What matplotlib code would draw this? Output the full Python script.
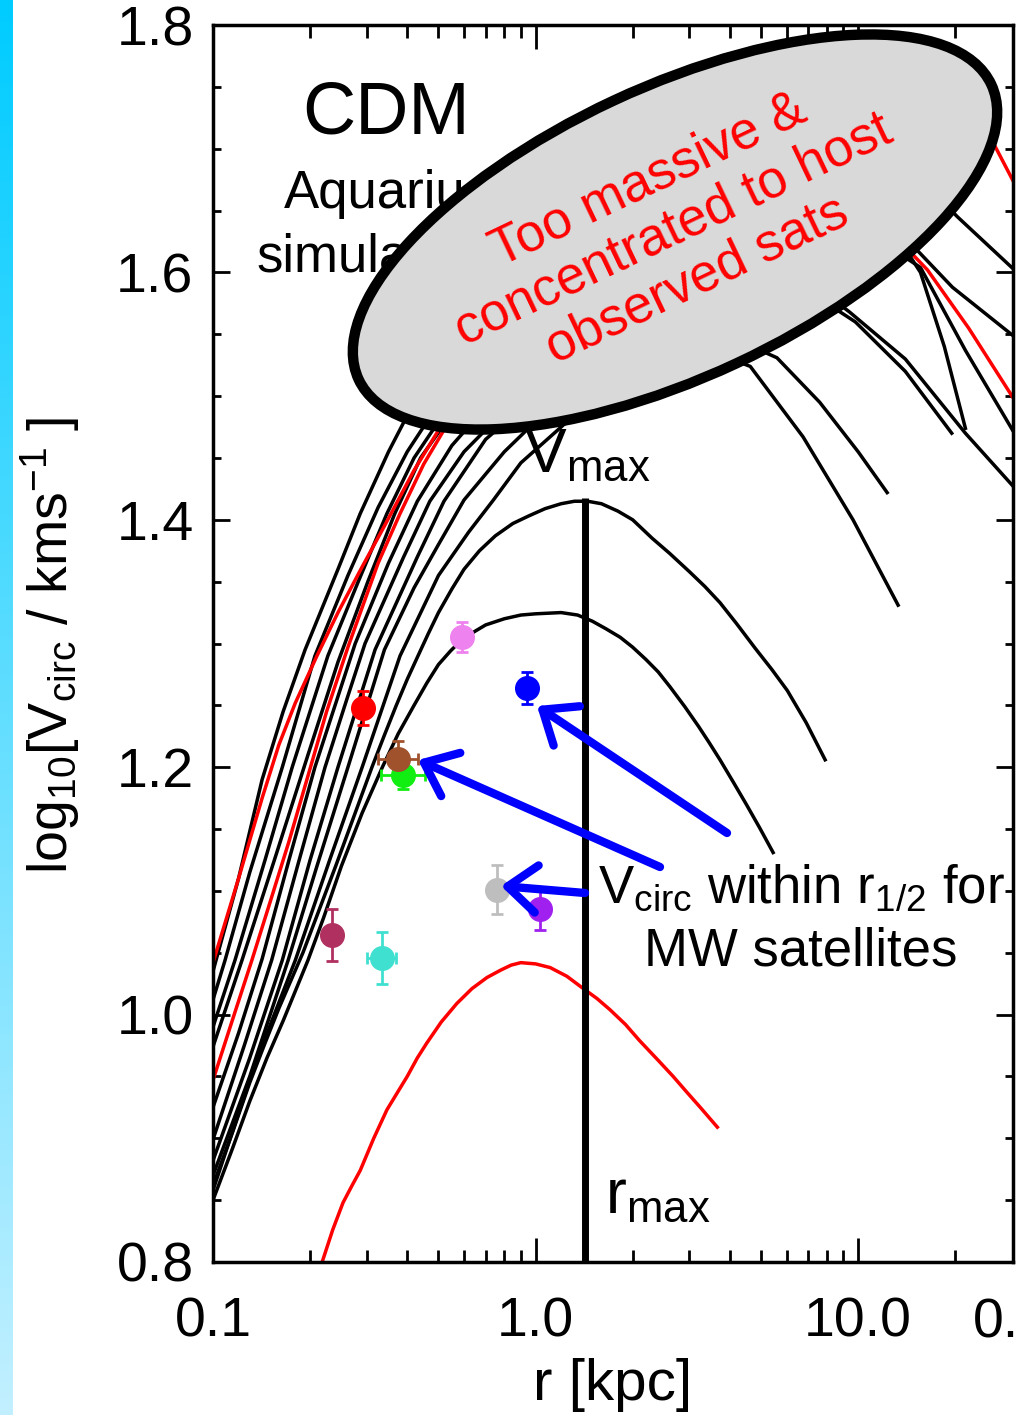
import numpy as np
import matplotlib
matplotlib.use("Agg")
import matplotlib.pyplot as plt
from matplotlib.patches import Ellipse
from matplotlib.ticker import NullFormatter

plt.rcParams['font.family'] = ['Liberation Sans', 'DejaVu Sans']
plt.rcParams['mathtext.fontset'] = 'custom'
plt.rcParams['mathtext.rm'] = 'Liberation Sans'
plt.rcParams['mathtext.it'] = 'Liberation Sans:italic'
plt.rcParams['mathtext.bf'] = 'Liberation Sans:bold'
plt.rcParams['mathtext.sf'] = 'Liberation Sans'

# ---------------- data (r in kpc, log10 Vcirc) ----------------
r1_x = [0.1, 0.12, 0.142, 0.16, 0.18, 0.21, 0.244, 0.29, 0.34, 0.42, 0.55, 0.8, 1.2, 2.0, 3.5, 6.0, 10.0, 16.0, 22.0, 26.2, 30.5]
r1_y = [1.042, 1.11, 1.175, 1.218, 1.252, 1.29, 1.325, 1.362, 1.395, 1.44, 1.49, 1.55, 1.60, 1.66, 1.71, 1.74, 1.752, 1.745, 1.725, 1.705, 1.672]

r2_x = [0.1, 0.115, 0.132, 0.152, 0.172, 0.193, 0.225, 0.262, 0.325, 0.38, 0.45, 0.6, 0.9, 1.5, 3.0, 6.0, 10.0, 13.5, 16.4, 22.0, 30.5]
r2_y = [0.947, 0.996, 1.044, 1.095, 1.14, 1.185, 1.245, 1.297, 1.365, 1.405, 1.445, 1.50, 1.55, 1.60, 1.64, 1.655, 1.645, 1.625, 1.602, 1.555, 1.497]

b1_x = [0.1, 0.12, 0.142, 0.165, 0.193, 0.244, 0.286, 0.35, 0.45, 0.7, 1.2, 2.2, 4.0, 7.0, 11.0, 15.0, 20.3, 30.5]
b1_y = [1.035, 1.11, 1.19, 1.245, 1.295, 1.36, 1.405, 1.455, 1.51, 1.575, 1.632, 1.675, 1.70, 1.71, 1.70, 1.68, 1.645, 1.602]

b2_x = [0.1, 0.109, 0.13, 0.164, 0.207, 0.262, 0.325, 0.4, 0.55, 0.9, 1.6, 3.0, 5.5, 9.0, 14.0, 19.6, 30.5]
b2_y = [1.012, 1.044, 1.115, 1.2, 1.29, 1.355, 1.41, 1.455, 1.51, 1.565, 1.615, 1.65, 1.665, 1.66, 1.628, 1.588, 1.548]

b3_x = [0.1, 0.117, 0.145, 0.176, 0.227, 0.282, 0.346, 0.42, 0.6, 1.0, 2.0, 4.0, 7.0, 10.5, 13.0, 15.6, 18.5, 21.5]
b3_y = [0.99, 1.044, 1.125, 1.2, 1.29, 1.35, 1.405, 1.45, 1.51, 1.56, 1.61, 1.64, 1.65, 1.645, 1.632, 1.60, 1.54, 1.474]

b4_x = [0.1, 0.123, 0.155, 0.197, 0.244, 0.302, 0.366, 0.44, 0.6, 1.0, 2.0, 4.0, 7.0, 11.0, 15.6, 21.5, 30.5]
b4_y = [0.974, 1.044, 1.125, 1.21, 1.285, 1.35, 1.405, 1.45, 1.50, 1.55, 1.60, 1.63, 1.64, 1.63, 1.604, 1.537, 1.47]

b5_x = [0.1, 0.12, 0.142, 0.172, 0.207, 0.276, 0.35, 0.43, 0.55, 0.75, 1.2, 2.2, 4.0, 6.5, 9.4, 14.0, 21.5, 30.5]
b5_y = [0.925, 0.985, 1.045, 1.125, 1.2, 1.3, 1.365, 1.415, 1.46, 1.50, 1.545, 1.585, 1.605, 1.60, 1.568, 1.53, 1.47, 1.426]

b6_x = [0.1, 0.125, 0.152, 0.185, 0.2225, 0.26, 0.296, 0.39, 0.47, 0.6, 0.85, 1.3, 2.2, 3.5, 5.5, 8.0, 9.8, 14.0, 19.5]
b6_y = [0.899, 0.975, 1.044, 1.125, 1.2, 1.255, 1.3, 1.37, 1.415, 1.455, 1.495, 1.535, 1.565, 1.58, 1.582, 1.575, 1.56, 1.52, 1.47]

b7_x = [0.1, 0.13, 0.164, 0.2, 0.244, 0.318, 0.43, 0.52, 0.7, 1.0, 1.6, 2.5, 3.8, 6.0]
b7_y = [0.882, 0.965, 1.044, 1.125, 1.2, 1.295, 1.37, 1.415, 1.465, 1.50, 1.54, 1.565, 1.575, 1.57]

b8_x = [0.1, 0.13, 0.171, 0.21, 0.262, 0.34, 0.42, 0.5, 0.6, 0.8, 1.1, 1.7, 2.8, 4.0, 5.6, 7.6, 10.0, 12.3]
b8_y = [0.87, 0.95, 1.044, 1.12, 1.2, 1.295, 1.345, 1.38, 1.416, 1.455, 1.49, 1.525, 1.55, 1.548, 1.531, 1.495, 1.455, 1.422]

b9_x = [0.1, 0.135, 0.18, 0.23, 0.29, 0.38, 0.5, 0.62, 0.74, 0.9, 1.2, 1.6, 2.3, 3.2, 4.63, 6.75, 9.64, 13.3]
b9_y = [0.858, 0.96, 1.044, 1.125, 1.2, 1.29, 1.355, 1.39, 1.416, 1.446, 1.475, 1.505, 1.53, 1.54, 1.524, 1.467, 1.40, 1.331]

ca_x = [0.1, 0.115, 0.13, 0.145, 0.16, 0.19, 0.215, 0.24, 0.275, 0.311, 0.34, 0.37, 0.4, 0.432, 0.465, 0.5,
        0.55, 0.6, 0.67, 0.75, 0.85, 0.95, 1.07, 1.2, 1.32, 1.45, 1.6, 1.8, 2.0, 2.3, 2.6, 3.0, 3.35, 3.73,
        4.2, 4.8, 5.4, 6.03, 6.9, 7.9]
ca_y = [0.862, 0.905, 0.945, 0.977, 1.005, 1.05, 1.087, 1.12, 1.162, 1.2, 1.226, 1.25, 1.271, 1.29, 1.308, 1.325,
        1.344, 1.36, 1.375, 1.387, 1.397, 1.403, 1.409, 1.413, 1.415, 1.415, 1.413, 1.407, 1.40, 1.385, 1.373,
        1.358, 1.346, 1.333, 1.316, 1.296, 1.279, 1.262, 1.236, 1.206]

cb_x = [0.1, 0.115, 0.13, 0.147, 0.165, 0.197, 0.22, 0.25, 0.29, 0.335, 0.375, 0.42, 0.46, 0.5, 0.545, 0.59,
        0.65, 0.7, 0.8, 0.9, 1.0, 1.2, 1.35, 1.5, 1.65, 1.83, 2.0, 2.2, 2.4, 2.61, 2.9, 3.2, 3.45, 3.73, 4.1,
        4.5, 4.95, 5.45]
cb_y = [0.85, 0.892, 0.93, 0.965, 0.995, 1.044, 1.078, 1.12, 1.163, 1.2, 1.227, 1.25, 1.268, 1.283, 1.294, 1.303,
        1.31, 1.315, 1.32, 1.323, 1.324, 1.325, 1.323, 1.318, 1.312, 1.305, 1.297, 1.287, 1.277, 1.265, 1.249,
        1.233, 1.22, 1.206, 1.188, 1.17, 1.151, 1.131]

low_x = [0.195, 0.218, 0.235, 0.253, 0.27, 0.286, 0.315, 0.346, 0.375, 0.4, 0.43, 0.46, 0.51, 0.57, 0.635,
         0.707, 0.78, 0.84, 0.9, 1.0, 1.11, 1.25, 1.39, 1.55, 1.7, 1.9, 2.1, 2.4, 2.67, 2.95, 3.24, 3.66]
low_y = [0.765, 0.80, 0.826, 0.848, 0.862, 0.874, 0.90, 0.923, 0.938, 0.95, 0.965, 0.977, 0.994, 1.009, 1.021,
         1.03, 1.036, 1.04, 1.042, 1.041, 1.038, 1.031, 1.022, 1.013, 1.004, 0.992, 0.979, 0.963, 0.95, 0.937,
         0.925, 0.909]

sat_r = [0.234, 0.334, 0.292, 0.388, 0.375, 0.591, 0.941, 0.760, 1.032]
sat_v = [1.064, 1.046, 1.248, 1.194, 1.207, 1.305, 1.264, 1.101, 1.085]
sat_verr = [0.021, 0.021, 0.014, 0.012, 0.014, 0.012, 0.013, 0.020, 0.017]
sat_rerr_dex = [0.0, 0.045, 0.0, 0.068, 0.062, 0.0, 0.0, 0.0, 0.0]
sat_colors = ['#B03060', '#40E0D0', '#FF0000', '#11EE11', '#A0522D', '#EE82EE', '#0000FF', '#BEBEBE', '#A020F0']

rmax_kpc = 1.424
vmax_log = 1.418

x_major = [0.1, 1.0, 10.0]
x_major_labels = ['0.1', '1.0', '10.0']
x_minor = [0.2, 0.3, 0.4, 0.5, 0.6, 0.7, 0.8, 0.9, 2, 3, 4, 5, 6, 7, 8, 9, 20]
y_major = [0.8, 1.0, 1.2, 1.4, 1.6, 1.8]
y_major_labels = ['0.8', '1.0', '1.2', '1.4', '1.6', '1.8']
y_minor = list(np.round(np.arange(0.85, 1.8, 0.05), 2))

# ---------------- figure ----------------
W, H = 1022, 1415
fig = plt.figure(figsize=(W / 100, H / 100), dpi=100)

# cyan gradient strip on the left
bar = fig.add_axes([0, 0, 13 / W, 1])
t = np.linspace(0, 1, 256)[:, None]
c_top = np.array([0.0, 0.80, 1.0])
c_bot = np.array([0.76, 0.94, 1.0])
img = (c_top * (1 - t) + c_bot * t)[:, None, :]
bar.imshow(img, aspect='auto', extent=[0, 1, 0, 1])
bar.axis('off')

ax = fig.add_axes([213 / W, 1 - 1262 / H, 800 / W, 1237 / H])
ov = fig.add_axes([0, 0, 1, 1], zorder=5)
ov.set_xlim(0, W)
ov.set_ylim(H, 0)
ov.axis('off')

ax.set_xscale('log')
ax.set_xlim(0.1, 30.2)
ax.set_ylim(0.8, 1.8)

black_curves = [(b1_x, b1_y), (b2_x, b2_y), (b3_x, b3_y), (b4_x, b4_y), (b5_x, b5_y),
                (b6_x, b6_y), (b7_x, b7_y), (b8_x, b8_y), (b9_x, b9_y), (ca_x, ca_y), (cb_x, cb_y)]
for xs, ys in black_curves:
    ax.plot(xs, ys, color='black', lw=2.5, zorder=2, solid_joinstyle='round')
for xs, ys in [(r1_x, r1_y), (r2_x, r2_y)]:
    ax.plot(xs, ys, color='#FF0000', lw=2.5, zorder=2.1, solid_joinstyle='round')
ax.plot(low_x, low_y, color='#FF0000', lw=2.5, zorder=2.1, solid_joinstyle='round')

ax.plot([rmax_kpc, rmax_kpc], [0.8, vmax_log], color='black', lw=5, zorder=2.5,
        solid_capstyle='butt')

for r, v, ve, rd, c in zip(sat_r, sat_v, sat_verr, sat_rerr_dex, sat_colors):
    xerr = None
    if rd > 0:
        xerr = [[r - r * 10 ** (-rd)], [r * 10 ** rd - r]]
    ax.errorbar([r], [v], yerr=[ve], xerr=xerr, fmt='o', ms=17, mfc=c, mec=c,
                ecolor=c, elinewidth=2, capsize=4, capthick=2, zorder=4)

ax.set_xticks(x_major)
ax.set_xticklabels(x_major_labels)
ax.set_xticks(x_minor, minor=True)
ax.xaxis.set_minor_formatter(NullFormatter())
ax.set_yticks(y_major)
ax.set_yticklabels(y_major_labels)
ax.set_yticks(y_minor, minor=True)
ax.yaxis.set_minor_formatter(NullFormatter())

ax.tick_params(which='both', direction='in', top=True, right=True, colors='black')
ax.tick_params(axis='x', which='major', length=17, width=2, pad=25, labelsize=40)
ax.tick_params(axis='x', which='minor', length=9, width=2)
ax.tick_params(axis='y', which='major', length=12, width=2, pad=14, labelsize=40)
ax.tick_params(axis='y', which='minor', length=6, width=2)
for s in ax.spines.values():
    s.set_linewidth(2.5)

# texts that sit beneath the ellipse
ax.text(388, 208, 'Aquarius', transform=ov.transData, fontsize=38, ha='center', va='baseline')
ax.text(388, 272, 'simulations', transform=ov.transData, fontsize=38, ha='center', va='baseline')
ax.text(524, 472, r'V$_{\mathrm{max}}$', transform=ov.transData, fontsize=45, ha='left', va='baseline')

# overlay
ov.text(386, 133, 'CDM', fontsize=53, ha='center', va='baseline')
ov.add_patch(Ellipse((675, 232), 698, 290, angle=-25, facecolor='#D9D9D9',
                     edgecolor='black', lw=7.5))
ov.text(673, 230, 'Too massive &\nconcentrated to host\nobserved sats', color='#FF0000',
        fontsize=38, rotation=25.5, rotation_mode='anchor', ha='center', va='center',
        multialignment='center', linespacing=1.15)

arrows = [((727, 833), (537, 706)), ((660, 867), (418, 760)), ((585, 893), (501, 886))]
for tail, tip in arrows:
    ov.annotate('', xy=tip, xytext=tail,
                arrowprops=dict(arrowstyle='->,head_length=1.05,head_width=0.85',
                                color='#0000FF', lw=6, mutation_scale=20,
                                shrinkA=0, shrinkB=0, capstyle='round', joinstyle='round'))

ov.text(801, 903, r'V$_{\mathrm{circ}}$ within r$_{\mathrm{1/2}}$ for', fontsize=38,
        ha='center', va='baseline')
ov.text(801, 965, 'MW satellites', fontsize=38, ha='center', va='baseline')
ov.text(605, 1213, r'r$_{\mathrm{max}}$', fontsize=45, ha='left', va='baseline')
ov.text(613, 1400, 'r [kpc]', fontsize=42, ha='center', va='baseline')
ov.text(973, 1338, '0.', fontsize=40, ha='left', va='baseline')
ov.text(50, 645, r'log$_{\mathrm{10}}$[V$_{\mathrm{circ}}$ / kms$^{\mathrm{-1}}$ ]', fontsize=40,
        rotation=90, ha='center', va='center')

fig.savefig('out.png', dpi=100)
